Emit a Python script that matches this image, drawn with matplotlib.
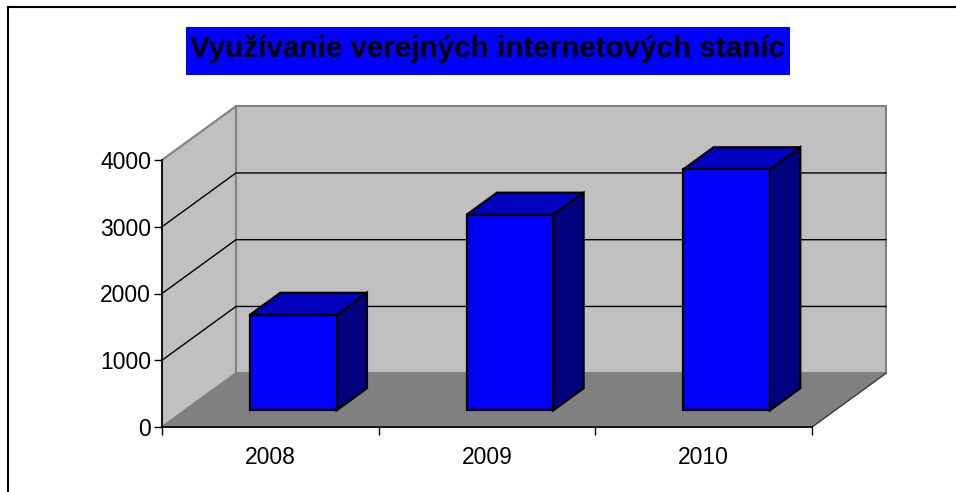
import matplotlib
matplotlib.use("Agg")
import matplotlib.pyplot as plt
from matplotlib.patches import Polygon, Rectangle
from matplotlib.lines import Line2D

# ---- data ----
categories = ["2008", "2009", "2010"]
values = [1430, 2930, 3610]
yticks = [0, 1000, 2000, 3000, 4000]
title = "Využívanie verejných internetových staníc"

# ---- style / geometry ----
W, H = 956, 492
DX = 74 / 216.67          # depth offset in category units
DY = 54 / 67.0 * 1000     # depth offset in value units
bar_w = 0.40
d0, d1 = 0.31, 0.72       # bar depth span (fraction of floor depth)
ymax = 4000
ncat = len(categories)

fig = plt.figure(figsize=(W / 100, H / 100), dpi=100)
fig.patch.set_facecolor("white")

ax = fig.add_axes([162 / W, (H - 427) / H, 650 / W, 267 / H])
ax.set_xlim(0, ncat)
ax.set_ylim(0, ymax)
ax.set_facecolor("none")

def P(x, y, d):
    return (x + d * DX, y + d * DY)

# floor
floor = Polygon([P(0, 0, 0), P(ncat, 0, 0), P(ncat, 0, 1), P(0, 0, 1)],
                closed=True, facecolor="#808080", edgecolor="#808080", lw=1,
                clip_on=False, zorder=1)
ax.add_patch(floor)
# left wall
lwall = Polygon([P(0, 0, 0), P(0, ymax, 0), P(0, ymax, 1), P(0, 0, 1)],
                closed=True, facecolor="#C0C0C0", edgecolor="#808080", lw=1.5,
                clip_on=False, zorder=1)
ax.add_patch(lwall)
# back wall
bwall = Polygon([P(0, 0, 1), P(0, ymax, 1), P(ncat, ymax, 1), P(ncat, 0, 1)],
                closed=True, facecolor="#C0C0C0", edgecolor="#808080", lw=1.5,
                clip_on=False, zorder=1)
ax.add_patch(bwall)
# floor right edge
x_a, y_a = P(ncat, 0, 0)
x_b, y_b = P(ncat, 0, 1)
ax.add_line(Line2D([x_a, x_b], [y_a, y_b], color="#404040", lw=1, clip_on=False, zorder=2))

# gridlines
for v in yticks[1:-1]:
    xa, ya = P(0, v, 0)
    xb, yb = P(0, v, 1)
    xc, yc = P(ncat, v, 1)
    ax.add_line(Line2D([xa, xb, xc], [ya, yb, yc], color="black", lw=1,
                       clip_on=False, zorder=2))

# bars
for i, v in enumerate(values):
    xl = i + 0.5 - bar_w / 2
    xr = xl + bar_w
    front = [P(xl, 0, d0), P(xl, v, d0), P(xr, v, d0), P(xr, 0, d0)]
    top = [P(xl, v, d0), P(xl, v, d1), P(xr, v, d1), P(xr, v, d0)]
    side = [P(xr, 0, d0), P(xr, v, d0), P(xr, v, d1), P(xr, 0, d1)]
    for pts, col in ((side, "#000080"), (top, "#0000C0"), (front, "#0000FF")):
        ax.add_patch(Polygon(pts, closed=True, facecolor=col, edgecolor="black",
                             lw=1.6, joinstyle="miter", clip_on=False, zorder=3))

# axes spines / ticks
for s in ("top", "right"):
    ax.spines[s].set_visible(False)
ax.spines["left"].set_color("black")
ax.spines["bottom"].set_color("black")
ax.spines["left"].set_linewidth(1.2)
ax.spines["bottom"].set_linewidth(1.2)
ax.spines["left"].set_zorder(4)
ax.spines["bottom"].set_zorder(4)

ax.set_yticks(yticks)
ax.set_yticklabels([str(t) for t in yticks])
ax.tick_params(axis="y", direction="out", length=6, width=1, pad=2,
               labelsize=16.5, colors="black")
ax.set_xticks(range(ncat + 1))
ax.set_xticklabels([])
ax.set_xticks([i + 0.5 for i in range(ncat)], minor=True)
ax.set_xticklabels(categories, minor=True)
ax.tick_params(axis="x", which="major", direction="out", length=6, width=1)
ax.tick_params(axis="x", which="minor", length=0, pad=14, labelsize=16.5)
for lab in ax.get_xticklabels(minor=True) + ax.get_yticklabels():
    lab.set_fontfamily("Liberation Sans")

# title box
fig.add_artist(Rectangle((186 / W, 1 - 75 / H), (790 - 186) / W, 48 / H,
                         transform=fig.transFigure, facecolor="#0000FF",
                         edgecolor="none", zorder=5))
fig.text(488 / W, 1 - 57 / H, title, ha="center", va="baseline",
         fontsize=21.3, fontweight="bold", family="Liberation Sans",
         color="black", zorder=6)

# outer frame lines
fig.add_artist(Line2D([8 / W, 8 / W], [0, 1 - 7 / H], transform=fig.transFigure,
                      color="black", lw=1.5))
fig.add_artist(Line2D([8 / W, 1], [1 - 7 / H, 1 - 7 / H], transform=fig.transFigure,
                      color="black", lw=1.5))

fig.savefig("out.png", dpi=100)
